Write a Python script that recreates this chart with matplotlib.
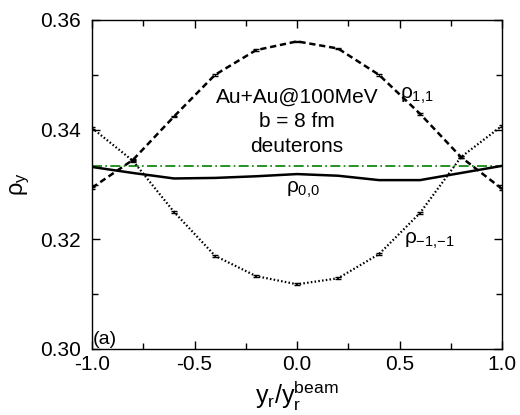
import numpy as np
import matplotlib
matplotlib.use("Agg")
import matplotlib.pyplot as plt
from matplotlib.ticker import MultipleLocator, FormatStrFormatter

plt.rcParams['font.family'] = ['Liberation Sans', 'DejaVu Sans']
plt.rcParams['mathtext.fontset'] = 'custom'
plt.rcParams['mathtext.rm'] = 'Liberation Sans'
plt.rcParams['mathtext.it'] = 'Liberation Sans'
plt.rcParams['mathtext.bf'] = 'Liberation Sans:bold'

# rapidity bins
y_r = [-1.0, -0.8, -0.6, -0.4, -0.2, 0.0, 0.2, 0.4, 0.6, 0.8, 1.0]
rho_11 = [0.3294, 0.3345, 0.3424, 0.3500, 0.3545, 0.3561, 0.3548, 0.3500, 0.3429, 0.3350, 0.3292]
rho_00 = [0.3332, 0.3321, 0.3311, 0.3312, 0.3315, 0.3319, 0.3316, 0.3308, 0.3308, 0.3321, 0.3334]
rho_mm = [0.3403, 0.3343, 0.3250, 0.3170, 0.3133, 0.3118, 0.3129, 0.3173, 0.3248, 0.3350, 0.3407]
err = [0.00015] * 11
ref_value = 1.0 / 3.0

fig = plt.figure(figsize=(5.2, 4.15), dpi=100)
ax = fig.add_axes([92 / 520, 1 - 349 / 415, 410 / 520, 329 / 415])

ax.axhline(ref_value, color='#008000', lw=1.2, ls=(0, (6, 2, 1, 2)))
ax.errorbar(y_r, rho_11, yerr=err, color='black', lw=1.8, ls=(0, (2.5, 1.5)),
            capsize=2, elinewidth=0.8)
ax.errorbar(y_r, rho_mm, yerr=err, color='black', lw=1.6, ls=(0, (0.7, 1.0)),
            capsize=2, elinewidth=0.8)
ax.plot(y_r, rho_00, color='black', lw=1.8)

ax.set_xlim(-1.0, 1.0)
ax.set_ylim(0.30, 0.36)
ax.xaxis.set_major_locator(MultipleLocator(0.5))
ax.xaxis.set_minor_locator(MultipleLocator(0.25))
ax.yaxis.set_major_locator(MultipleLocator(0.02))
ax.yaxis.set_minor_locator(MultipleLocator(0.01))
ax.xaxis.set_major_formatter(FormatStrFormatter('%.1f'))
ax.yaxis.set_major_formatter(FormatStrFormatter('%.2f'))
ax.tick_params(which='both', direction='in', top=True, right=True, labelsize=15, width=1)
ax.tick_params(which='major', length=6)
ax.tick_params(which='minor', length=4)
ax.tick_params(axis='y', pad=8)
ax.tick_params(axis='x', pad=4)
for s in ax.spines.values():
    s.set_linewidth(1.0)

ax.set_xlabel(r'y$_r$/y$_r^{\rm beam}$', fontsize=18, labelpad=4)
ax.set_ylabel(r'$\rho_y$', fontsize=17, labelpad=6)

ax.text(0.0, 0.3460, 'Au+Au@100MeV', ha='center', va='center', fontsize=15)
ax.text(0.0, 0.3415, 'b = 8 fm', ha='center', va='center', fontsize=15)
ax.text(0.0, 0.3370, 'deuterons', ha='center', va='center', fontsize=15)
ax.text(0.50, 0.3462, r'$\rho_{1{,}1}$', ha='left', va='center', fontsize=15)
ax.text(0.03, 0.3290, r'$\rho_{0{,}0}$', ha='center', va='center', fontsize=15)
ax.text(0.52, 0.3197, r'$\rho_{{-}1{,}{-}1}$', ha='left', va='center', fontsize=15)
ax.text(-0.995, 0.3002, '(a)', ha='left', va='bottom', fontsize=14)

fig.savefig('out.png', dpi=100)
